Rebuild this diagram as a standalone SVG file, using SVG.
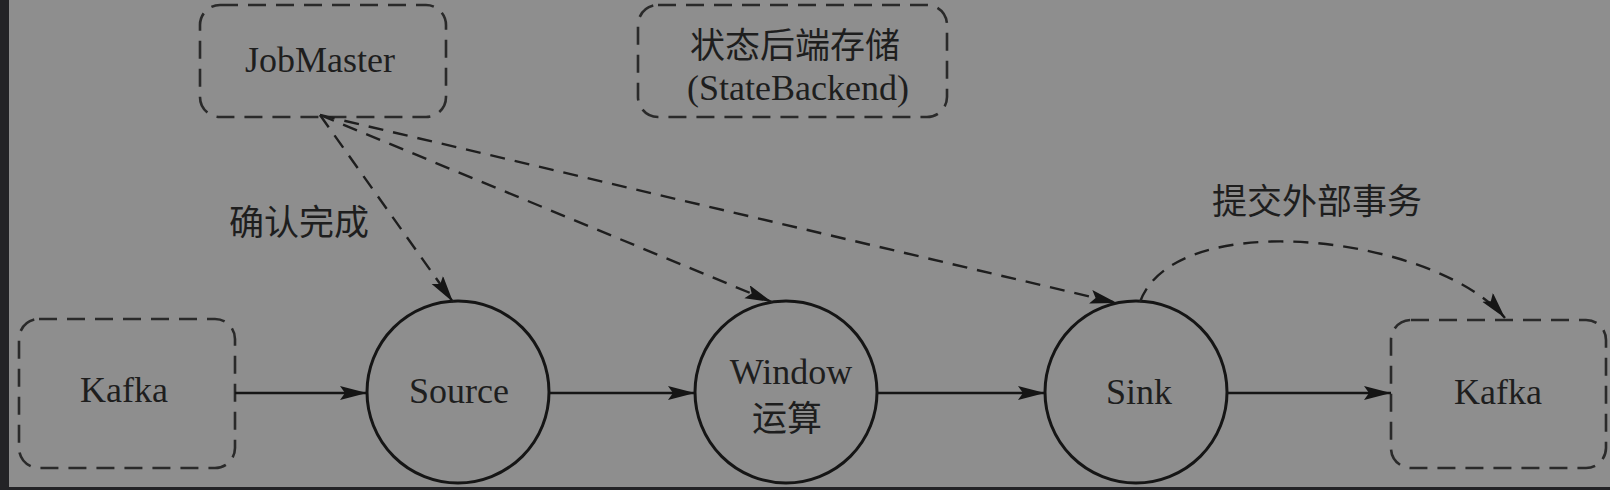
<svg xmlns="http://www.w3.org/2000/svg" width="1610" height="490" viewBox="0 0 1610 490">
<style>
.bg{fill:#8e8e8e}
.strip{fill:#232326}
.box{fill:none;stroke:#2a2a2a;stroke-width:2.6;stroke-dasharray:18 10}
.op{fill:none;stroke:#151515;stroke-width:3}
.t{font-family:"Liberation Serif","Noto Sans CJK SC",serif;font-size:36px;fill:#1e1e1e;text-anchor:middle}
.c{font-family:"Noto Sans CJK SC","Liberation Serif",sans-serif;font-size:35px;fill:#1e1e1e;text-anchor:middle}
.flow{fill:none;stroke:#151515;stroke-width:2.4}
.dash{fill:none;stroke:#1e1e1e;stroke-width:2.4;stroke-dasharray:15 10}
</style>
<defs>
<marker id="ah" markerUnits="userSpaceOnUse" markerWidth="30" markerHeight="16" refX="27" refY="7" orient="auto">
<path d="M0,0 L27,7 L0,14 L5,7 z" fill="#151515"/>
</marker>
</defs>
<rect class="bg" x="0" y="0" width="1610" height="490"/>
<rect class="strip" x="0" y="0" width="9" height="490"/>
<rect class="strip" x="0" y="487" width="1610" height="3"/>

<g id="jobmaster">
<rect class="box" x="200" y="5" width="246" height="112" rx="20"/>
<text class="t" x="320" y="72">JobMaster</text>
</g>
<g id="statebackend">
<rect class="box" x="638" y="5" width="309" height="112" rx="20"/>
<text class="c" x="795" y="58">状态后端存储</text>
<text class="t" x="798" y="100">(StateBackend)</text>
</g>
<g id="kafka-in">
<rect class="box" x="19" y="319" width="216" height="149" rx="20"/>
<text class="t" x="124" y="402">Kafka</text>
</g>
<g id="source">
<circle class="op" cx="458" cy="392" r="91"/>
<text class="t" x="459" y="403">Source</text>
</g>
<g id="window">
<circle class="op" cx="786" cy="392" r="91"/>
<text class="t" x="791" y="384">Window</text>
<text class="c" x="787" y="431">运算</text>
</g>
<g id="sink">
<circle class="op" cx="1136" cy="392" r="91"/>
<text class="t" x="1139" y="404">Sink</text>
</g>
<g id="kafka-out">
<rect class="box" x="1391" y="320" width="215" height="148" rx="20"/>
<text class="t" x="1498" y="404">Kafka</text>
</g>

<g id="connectors">
<line class="flow" x1="235" y1="393" x2="367" y2="393" marker-end="url(#ah)"/>
<line class="flow" x1="549" y1="393" x2="695" y2="393" marker-end="url(#ah)"/>
<line class="flow" x1="877" y1="393" x2="1045" y2="393" marker-end="url(#ah)"/>
<line class="flow" x1="1227" y1="393" x2="1391" y2="393" marker-end="url(#ah)"/>
<line class="dash" x1="320" y1="115" x2="453" y2="302" marker-end="url(#ah)"/>
<line class="dash" x1="320" y1="115" x2="772" y2="302" marker-end="url(#ah)"/>
<line class="dash" x1="320" y1="115" x2="1117" y2="303" marker-end="url(#ah)"/>
<path class="dash" d="M1140,302 C1175,205 1435,235 1505,318" marker-end="url(#ah)"/>
<text class="c" x="299" y="235">确认完成</text>
<text class="c" x="1317" y="214">提交外部事务</text>
</g>
</svg>
